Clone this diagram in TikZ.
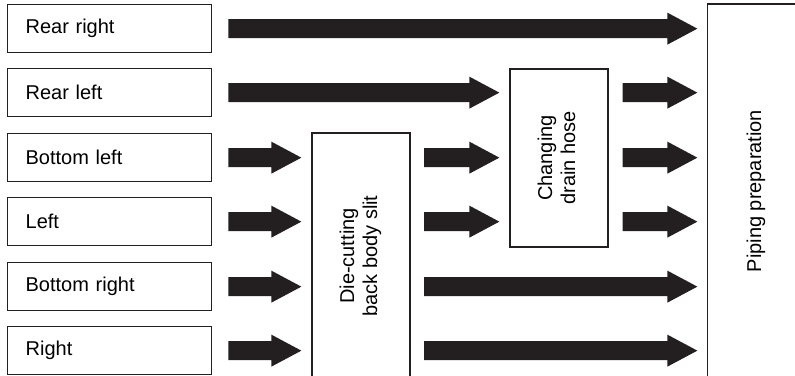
\documentclass[tikz,border=0pt]{standalone}
\usepackage{fontspec}
\setmainfont{Liberation Sans}
\usetikzlibrary{calc}
\definecolor{ink}{HTML}{231F20}
\tikzset{
  box/.style={draw=ink, line width=1.3pt, fill=white, inner sep=0pt},
  lbox/.style={box, anchor=north west, text width=168pt, inner xsep=18pt, minimum height=48pt, align=left, font=\fontsize{20}{23}\selectfont},
  vbox/.style={box, font=\fontsize{20}{23}\selectfont},
  arr/.style={fill=ink},
}
\newcommand{\farrow}[2]{%
  \fill[arr] ($(#1)+(0,9.5)$) -- ($(#2)+(-30,9.5)$) -- ($(#2)+(-30,16)$) -- (#2)
    -- ($(#2)+(-30,-16)$) -- ($(#2)+(-30,-9.5)$) -- ($(#1)+(0,-9.5)$) -- cycle;}
\begin{document}
\begin{tikzpicture}[x=1pt,y=-1pt]
\useasboundingbox (0,0) rectangle (795,375);
\clip (0,0) rectangle (795,375);
% left boxes
\node[lbox] (rr) at (7,4)   {Rear right};
\node[lbox] (rl) at (7,68)  {Rear left};
\node[lbox] (bl) at (7,133) {Bottom left};
\node[lbox] (l)  at (7,197) {Left};
\node[lbox] (br) at (7,262) {Bottom right};
\node[lbox] (r)  at (7,326) {Right};
% process boxes
\node[vbox, minimum width=98pt, minimum height=246pt] (die) at (361,256)
  {\rotatebox{90}{\begin{tabular}{@{}c@{}}Die-cutting\\back body slit\end{tabular}}};
\node[vbox, minimum width=98pt, minimum height=178pt] (chg) at (559,158)
  {\rotatebox{90}{\begin{tabular}{@{}c@{}}Changing\\drain hose\end{tabular}}};
\node[vbox, minimum width=97pt, minimum height=374pt] (pip) at (756,191)
  {\rotatebox{90}{Piping preparation}};
% arrow end points
\coordinate (s1) at ([xshift=16pt]rr.east);
\coordinate (t1) at ([xshift=-9.5pt]pip.west |- rr.east);
\coordinate (s2) at ([xshift=16pt]rl.east);
\coordinate (t2) at ([xshift=-10pt]chg.west |- rl.east);
\coordinate (s2b) at ([xshift=14pt]chg.east |- rl.east);
\coordinate (t2b) at ([xshift=-9.5pt]pip.west |- rl.east);
\coordinate (s3) at ([xshift=16pt]bl.east);
\coordinate (t3) at ([xshift=-10pt]die.west |- bl.east);
\coordinate (s3b) at ([xshift=13.5pt]die.east |- bl.east);
\coordinate (t3b) at ([xshift=-10pt]chg.west |- bl.east);
\coordinate (s3c) at ([xshift=14pt]chg.east |- bl.east);
\coordinate (t3c) at ([xshift=-9.5pt]pip.west |- bl.east);
\coordinate (s4) at ([xshift=16pt]l.east);
\coordinate (t4) at ([xshift=-10pt]die.west |- l.east);
\coordinate (s4b) at ([xshift=13.5pt]die.east |- l.east);
\coordinate (t4b) at ([xshift=-10pt]chg.west |- l.east);
\coordinate (s4c) at ([xshift=14pt]chg.east |- l.east);
\coordinate (t4c) at ([xshift=-9.5pt]pip.west |- l.east);
\coordinate (s5) at ([xshift=16pt]br.east);
\coordinate (t5) at ([xshift=-10pt]die.west |- br.east);
\coordinate (s5b) at ([xshift=13.5pt]die.east |- br.east);
\coordinate (t5b) at ([xshift=-9.5pt]pip.west |- br.east);
\coordinate (s6) at ([xshift=16pt]r.east);
\coordinate (t6) at ([xshift=-10pt]die.west |- r.east);
\coordinate (s6b) at ([xshift=13.5pt]die.east |- r.east);
\coordinate (t6b) at ([xshift=-9.5pt]pip.west |- r.east);
% arrows
\farrow{s1}{t1}
\farrow{s2}{t2}
\farrow{s2b}{t2b}
\farrow{s3}{t3}
\farrow{s3b}{t3b}
\farrow{s3c}{t3c}
\farrow{s4}{t4}
\farrow{s4b}{t4b}
\farrow{s4c}{t4c}
\farrow{s5}{t5}
\farrow{s5b}{t5b}
\farrow{s6}{t6}
\farrow{s6b}{t6b}
\end{tikzpicture}
\end{document}
